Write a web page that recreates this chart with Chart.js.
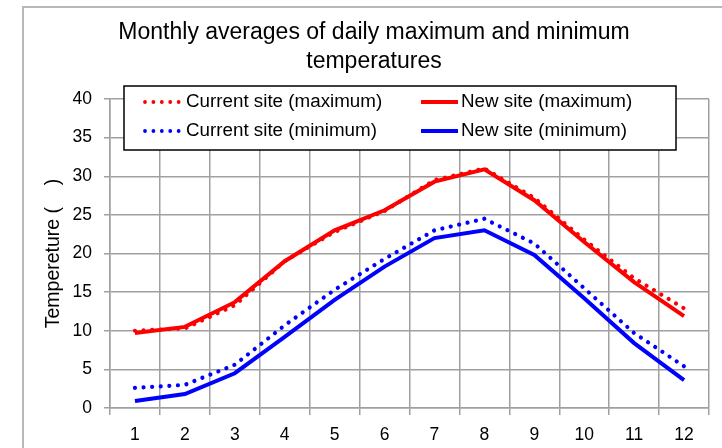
<!DOCTYPE html>
<html lang="en">
<head>
  <meta charset="UTF-8" />
  <title>Monthly temperatures</title>
  <style>
    body { margin: 0; background: #fff; }
    .wrap { width: 722px; height: 448px; }
  </style>
</head>
<body>
  <div class="wrap"><canvas id="tempChart" width="722" height="448"></canvas></div>

  <script src="https://cdn.jsdelivr.net/npm/chart.js"></script>
  <script>
    const months = ['1', '2', '3', '4', '5', '6', '7', '8', '9', '10', '11', '12'];
    const currentMax = [10.0, 10.3, 13.3, 19.0, 22.8, 25.5, 29.5, 31.0, 27.2, 21.8, 16.8, 12.9];
    const newMax = [9.7, 10.5, 13.7, 19.0, 23.0, 25.6, 29.3, 30.9, 26.9, 21.5, 16.3, 11.9];
    const currentMin = [2.6, 3.0, 5.6, 10.7, 15.3, 19.3, 23.0, 24.5, 21.3, 15.5, 9.7, 5.4];
    const newMin = [0.9, 1.8, 4.5, 9.2, 14.0, 18.3, 22.0, 23.0, 19.8, 14.2, 8.4, 3.6];
    const yTicks = [0, 40, 5]; // min, max, step

    const gridColor = '#a0a0a0';
    const dots = [0.01, 8.6];
    const font = 'Liberation Sans';

    // grey frame round the whole chart
    const framePlugin = {
      id: 'frame',
      beforeDraw(chart) {
        const ctx = chart.ctx;
        ctx.save();
        ctx.fillStyle = '#fff';
        ctx.fillRect(0, 0, chart.width, chart.height);
        ctx.strokeStyle = '#b8b8b8';
        ctx.lineWidth = 2;
        ctx.beginPath();
        ctx.moveTo(23, chart.height);
        ctx.lineTo(23, 7);
        ctx.lineTo(chart.width, 7);
        ctx.stroke();
        ctx.restore();
      }
    };

    // boxed legend, two columns, sitting over the top of the plot
    const boxLegend = {
      id: 'boxLegend',
      afterDraw(chart) {
        const ctx = chart.ctx;
        const ds = chart.data.datasets;
        const cells = [
          { i: 0, x: 143, y: 102 }, { i: 1, x: 421, y: 102 },
          { i: 2, x: 143, y: 131 }, { i: 3, x: 421, y: 131 }
        ];
        ctx.save();
        ctx.fillStyle = '#fff';
        ctx.fillRect(124, 86, 552, 64);
        ctx.strokeStyle = '#000';
        ctx.lineWidth = 1.5;
        ctx.strokeRect(124, 86, 552, 64);
        ctx.font = '18.8px "' + font + '"';
        ctx.textBaseline = 'middle';
        cells.forEach(c => {
          const d = ds[c.i];
          const dotted = !!d.borderDash;
          const len = dotted ? 40 : 37;
          ctx.strokeStyle = d.borderColor;
          ctx.lineWidth = dotted ? 3.8 : 4;
          ctx.lineCap = dotted ? 'round' : 'butt';
          ctx.setLineDash(dotted ? [0.01, 8.4] : []);
          ctx.beginPath();
          ctx.moveTo(c.x + (dotted ? 2 : 0), c.y);
          ctx.lineTo(c.x + len, c.y);
          ctx.stroke();
          ctx.setLineDash([]);
          ctx.fillStyle = '#000';
          ctx.fillText(d.label, c.x + len + 3, c.y);
        });
        ctx.restore();
      }
    };

    new Chart(document.getElementById('tempChart'), {
      type: 'line',
      data: {
        labels: months,
        datasets: [
          { label: 'Current site (maximum)', data: currentMax, borderColor: '#ff0000', borderWidth: 4.2, borderDash: dots, borderCapStyle: 'round' },
          { label: 'New site (maximum)', data: newMax, borderColor: '#ff0000', borderWidth: 4 },
          { label: 'Current site (minimum)', data: currentMin, borderColor: '#0000ff', borderWidth: 4.2, borderDash: dots, borderCapStyle: 'round' },
          { label: 'New site (minimum)', data: newMin, borderColor: '#0000ff', borderWidth: 4 }
        ]
      },
      options: {
        responsive: false,
        animation: false,
        elements: { point: { radius: 0 }, line: { tension: 0 } },
        layout: { padding: { top: 7, left: 26, right: 0, bottom: 0 } },
        plugins: {
          legend: { display: false },
          tooltip: { enabled: false },
          title: {
            display: true,
            text: ['Monthly averages of daily maximum and minimum', 'temperatures'],
            color: '#000',
            font: { family: font, size: 23, weight: 'normal', lineHeight: 29 / 23 },
            padding: { top: 11.5, bottom: 22.5 }
          }
        },
        scales: {
          x: {
            offset: true,
            grid: { offset: true, color: gridColor, lineWidth: 1.5, tickLength: 7 },
            border: { color: gridColor, width: 1.5 },
            ticks: { color: '#000', padding: 10, font: { family: font, size: 17.5 } },
            afterFit(s) { s.height = 40; }
          },
          y: {
            min: yTicks[0],
            max: yTicks[1],
            ticks: { stepSize: yTicks[2], color: '#000', padding: 12, font: { family: font, size: 17.5 } },
            grid: { color: gridColor, lineWidth: 1.5, tickLength: 6 },
            border: { color: gridColor, width: 1.5 },
            title: {
              display: true,
              text: 'Tempereture (    )',
              color: '#000',
              font: { family: font, size: 19.5 },
              padding: { top: 16, bottom: 0 }
            },
            afterFit(s) { s.width = 84; }
          },
          pad: {
            type: 'linear',
            position: 'right',
            grid: { display: false, drawTicks: false },
            border: { display: false },
            ticks: { display: false },
            afterFit(s) { s.width = 13; }
          }
        }
      },
      plugins: [framePlugin, boxLegend]
    });
  </script>
</body>
</html>
